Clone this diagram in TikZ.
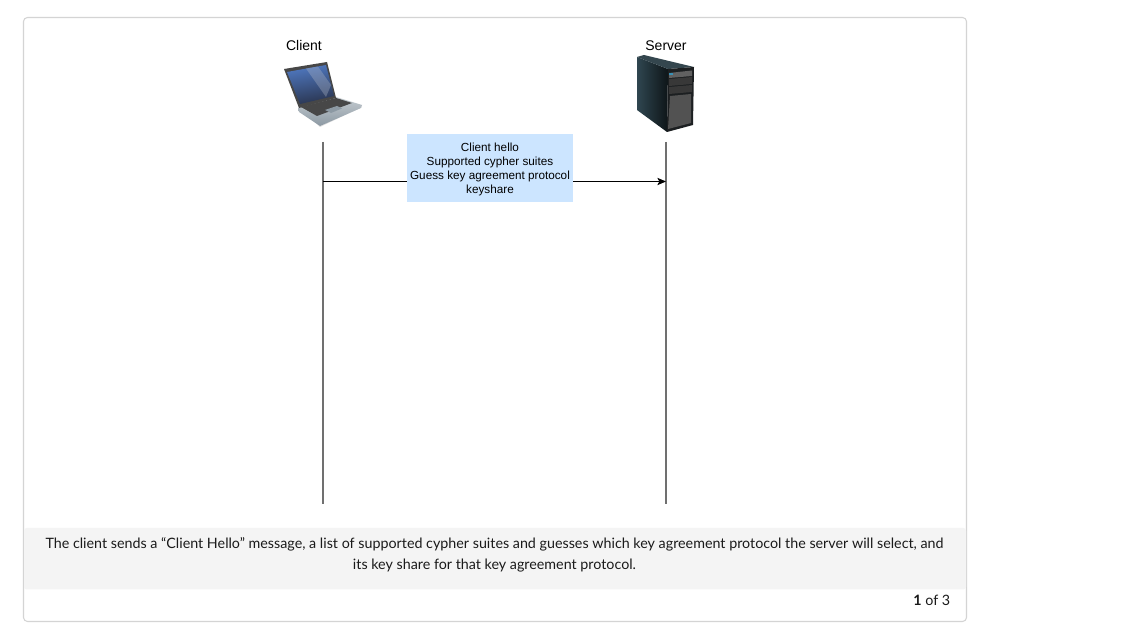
\documentclass[tikz,border=0pt]{standalone}
\usepackage{fontspec}
\setmainfont{Liberation Sans}
\newfontfamily\capfont{Lato}
\usetikzlibrary{arrows.meta}
\definecolor{cardline}{HTML}{D4D4D4}
\definecolor{band}{HTML}{F4F4F4}
\definecolor{msgfill}{HTML}{CCE5FF}
\definecolor{lifeline}{HTML}{707070}
\definecolor{captxt}{HTML}{1A1A1A}
\definecolor{srvA}{HTML}{0E1518}
\definecolor{srvB}{HTML}{2F4650}
\definecolor{srvTop}{HTML}{34464E}
\definecolor{srvFront}{HTML}{1C1F21}
\definecolor{scrA}{HTML}{4F78C0}
\definecolor{scrB}{HTML}{2A3550}
\definecolor{scrC}{HTML}{B0B8C8}
\definecolor{baseA}{HTML}{C4CBD0}
\definecolor{baseB}{HTML}{8C99A3}
\tikzset{
  px/.style={x=0.75pt,y=-0.75pt},
  actorlabel/.style={font=\fontsize{10.5pt}{12pt}\selectfont,text=black,inner sep=0pt,anchor=center},
  lifelinepath/.style={draw=lifeline,line width=0.85pt},
  msgbox/.style={fill=msgfill,draw=none,inner sep=0pt,minimum width=124.5pt,minimum height=51pt,align=center,text=black},
  msgtext/.style={font=\fontsize{8.8pt}{10.3pt}\selectfont,align=center,inner sep=0pt,text=black},
  msgarrow/.style={draw=black,line width=0.7pt},
  captxtstyle/.style={font=\capfont\fontsize{10.72pt}{15.8pt}\selectfont,text=captxt,align=center,inner sep=0pt},
}
\begin{document}
\begin{tikzpicture}[px]
\useasboundingbox (0,0) rectangle (1143,630);
\fill[white] (0,0) rectangle (1143,630);
% card
\draw[cardline,line width=0.8pt,rounded corners=3pt] (23.5,17.5) rectangle (966.5,621.5);
\fill[band,rounded corners=2pt] (24,528) rectangle (966,589.5);

% laptop
\fill[black!25,opacity=.5] (300,109) -- (336,99) -- (362,107) -- (320,127) -- cycle;
\shade[top color=baseA,bottom color=baseB] (298,108) -- (336,97) -- (362,105) -- (361,108) -- (320,126) -- (299,112) -- cycle;
\fill[black!72] (301,107) -- (336,98) -- (352,103) -- (317,116) -- cycle;
\fill[baseB] (325,110) -- (337,106) -- (342,108.5) -- (331,113) -- cycle;
\fill[black!72] (284,69) -- (327,62) -- (336,98) -- (299,108) -- cycle;
\shade[left color=scrA,right color=scrB,shading angle=10] (287,72) -- (326,65) -- (334,96) -- (300,104) -- cycle;
\fill[scrC,opacity=.35] (306,68.5) -- (318,66.5) -- (331,85) -- (326,97) -- cycle;

% server
\shade[left color=srvB,right color=srvA] (637,57) -- (668,69) -- (667,132) -- (637,110) -- cycle;
\fill[srvTop] (637,57) -- (644,55) -- (694,67) -- (668,69) -- cycle;
\fill[srvFront] (668,69) -- (694,67) -- (693,125) -- (667,132) -- cycle;
\fill[black!62] (669,73) -- (692,70.5) -- (692,76) -- (669,78) -- cycle;
\fill[black!78] (669,79) -- (692,77) -- (692,84) -- (669,86) -- cycle;
\fill[black!78] (669,87) -- (692,85) -- (692,92) -- (669,94) -- cycle;
\fill[black!68] (670,96) -- (691,94) -- (691,123) -- (668,129) -- cycle;
\fill[cyan!70!black] (668.5,73.5) rectangle (673,75.5);

% text and connectors
\node[actorlabel] (client) at (304,45.5) {Client};
\node[actorlabel] (server) at (666,45.5) {Server};
\coordinate (ctop) at (323,142);
\coordinate (cbot) at (323,504);
\coordinate (stop) at (666,142);
\coordinate (sbot) at (666,504);
\coordinate (cmsg) at (323,181.5);
\coordinate (smsg) at (666,181.5);
\draw[lifelinepath] (ctop) -- (cbot);
\draw[lifelinepath] (stop) -- (sbot);
\node[msgbox] (msg) at (490,168) {};
\node[msgtext] (msglabel) at (490,169.5) {Client hello\\Supported cypher suites\\Guess key agreement protocol\\keyshare};
\draw[msgarrow] (cmsg) -- (cmsg -| msg.west);
\draw[msgarrow,-{Stealth[length=6.5pt,width=5.5pt,inset=1.5pt]}] (smsg -| msg.east) -- (smsg);

\node[captxtstyle] (caption) at (494.5,555) {The client sends a “Client Hello” message, a list of supported cypher suites and guesses which key agreement protocol the server will select, and\\its key share for that key agreement protocol.};
\node[captxtstyle,anchor=east] (pager) at (950.5,600.5) {\textbf{1} of 3};
\end{tikzpicture}
\end{document}
